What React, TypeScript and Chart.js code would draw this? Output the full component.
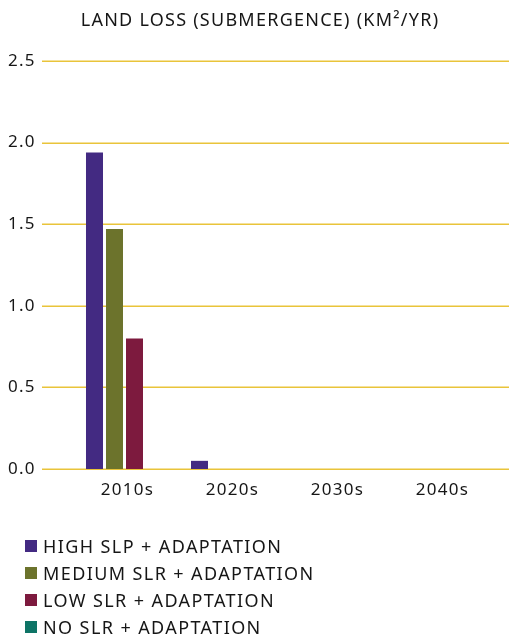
import React, { useEffect, useRef } from "react";
import { Chart, registerables } from "chart.js";

Chart.register(...registerables);

const title = "LAND LOSS (SUBMERGENCE) (KM²/YR)";
const categories = ["2010s", "2020s", "2030s", "2040s"];
const seriesNames = [
  "HIGH SLP + ADAPTATION",
  "MEDIUM SLR + ADAPTATION",
  "LOW SLR + ADAPTATION",
  "NO SLR + ADAPTATION",
];
const highValues = [1.94, 0.05, 0, 0];
const mediumValues = [1.47, 0, 0, 0];
const lowValues = [0.8, 0, 0, 0];
const noValues = [0, 0, 0, 0];
const seriesColors = ["#432A82", "#6C732C", "#7D1A3E", "#0E7466"];

const FONT = "'Noto Sans', sans-serif";
const TEXT = "#161616";
const GRID = "#E9C43A";

const spacingPlugin = {
  id: "spacing",
  beforeDraw(chart: any) {
    chart.ctx.letterSpacing = "1.25px";
  },
  afterDraw(chart: any) {
    chart.ctx.letterSpacing = "0px";
  },
};

const gridPlugin = {
  id: "extGrid",
  beforeDatasetsDraw(chart: any) {
    const y = chart.scales.y;
    const ctx = chart.ctx;
    ctx.save();
    ctx.strokeStyle = GRID;
    ctx.lineWidth = 1.5;
    y.ticks.forEach((_t: any, i: number) => {
      const py = Math.round(y.getPixelForTick(i)) + 0.25;
      ctx.beginPath();
      ctx.moveTo(42, py);
      ctx.lineTo(chart.width, py);
      ctx.stroke();
    });
    ctx.restore();
  },
};

export default function App() {
  const ref = useRef<HTMLCanvasElement>(null);
  useEffect(() => {
    const values = [highValues, mediumValues, lowValues, noValues];
    const chart = new Chart(ref.current!, {
      type: "bar",
      data: {
        labels: categories,
        datasets: seriesNames.map((name, i) => ({
          label: name,
          data: values[i],
          backgroundColor: seriesColors[i],
          borderWidth: 0,
          barPercentage: 0.85,
          categoryPercentage: 0.762,
        })),
      },
      options: {
        animation: false,
        responsive: true,
        maintainAspectRatio: false,
        layout: { padding: { left: 28, right: 17, top: 0, bottom: 0 } },
        plugins: {
          legend: { display: false },
          tooltip: { enabled: false },
          title: {
            display: true,
            text: title,
            color: TEXT,
            font: { family: FONT, size: 18, weight: "normal" },
            padding: { top: 10, bottom: 29.4 },
          },
        },
        scales: {
          x: {
            grid: { display: false, drawTicks: false },
            border: { display: false },
            ticks: {
              color: TEXT,
              font: { family: FONT, size: 17 },
              padding: 11,
              labelOffset: 3,
            },
            afterFit: (s: any) => {
              s.height = 41;
            },
          },
          y: {
            min: 0,
            max: 2.5,
            ticks: {
              stepSize: 0.5,
              color: TEXT,
              font: { family: FONT, size: 17 },
              mirror: true,
              crossAlign: "near",
              padding: -64,
              callback: (v: any) => Number(v).toFixed(1),
            },
            grid: { display: false, drawTicks: false },
            border: { display: false },
            afterFit: (s: any) => {
              s.width = 44;
            },
          },
        },
      },
      plugins: [spacingPlugin, gridPlugin],
    });
    return () => chart.destroy();
  }, []);

  return (
    <div
      style={{
        position: "fixed",
        left: 0,
        top: 0,
        width: 509,
        height: 635,
        background: "#fff",
        fontFamily: FONT,
      }}
    >
      <div style={{ position: "absolute", left: 0, top: 0, width: 509, height: 510 }}>
        <canvas ref={ref} />
      </div>
      <div style={{ position: "absolute", left: 25, top: 532 }}>
        {seriesNames.map((name, i) => (
          <div
            key={name}
            style={{
              display: "flex",
              alignItems: "center",
              height: 27,
              fontSize: 18,
              letterSpacing: "1.4px",
              color: TEXT,
              whiteSpace: "nowrap",
            }}
          >
            <span
              style={{
                display: "inline-block",
                width: 12,
                height: 12,
                background: seriesColors[i],
                marginRight: 6,
              }}
            />
            {name}
          </div>
        ))}
      </div>
    </div>
  );
}
